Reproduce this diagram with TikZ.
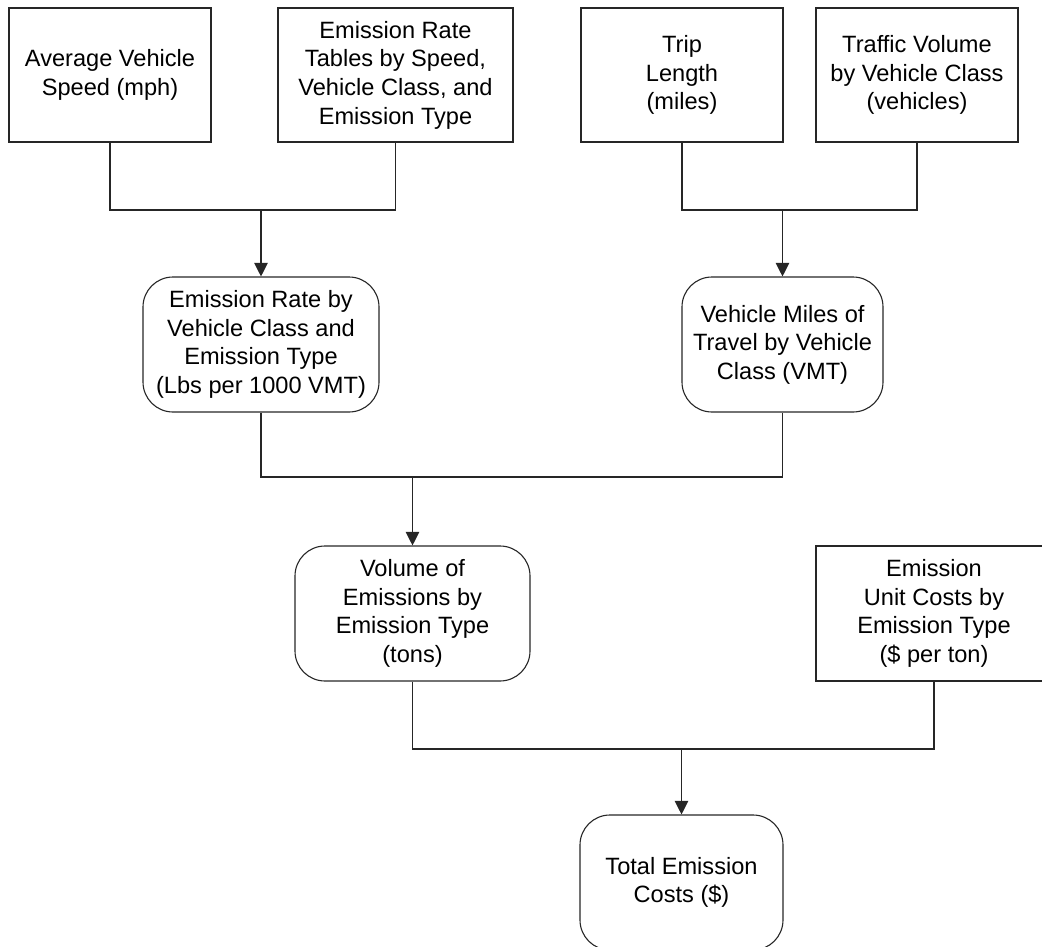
\documentclass[tikz,border=0pt]{standalone}
\usepackage{fontspec}
\setmainfont{Liberation Sans}
\usetikzlibrary{arrows.meta}

\tikzset{
  base/.style={draw=black!85, line width=1.1pt, align=center, inner sep=0pt,
    font=\fontsize{23.6}{28.6}\selectfont},
  inbox/.style={base, rectangle},
  calcbox/.style={base, rectangle, rounded corners=30pt},
  link/.style={draw=black!85, line width=1.1pt},
  feed/.style={link, -{Triangle[width=13.5pt,length=13.5pt]}}
}

\begin{document}
\begin{tikzpicture}[x=1pt,y=-1pt]
  \useasboundingbox (0,0) rectangle (1042,947);
  \clip (0,0) rectangle (1042,947);

  % input data boxes
  \node[inbox, minimum width=202pt, minimum height=134pt] (avs) at (110,75)
    {Average Vehicle\\Speed (mph)};
  \node[inbox, minimum width=235pt, minimum height=134pt] (ert) at (395.5,75)
    {Emission Rate\\Tables by Speed,\\Vehicle Class, and\\Emission Type};
  \node[inbox, minimum width=202pt, minimum height=134pt] (tl) at (682,75)
    {Trip\\Length\\(miles)};
  \node[inbox, minimum width=202pt, minimum height=134pt] (tv) at (917,75)
    {Traffic Volume\\by Vehicle Class\\(vehicles)};

  % computed quantities
  \node[calcbox, minimum width=236pt, minimum height=135pt] (er) at (261,344.5)
    {Emission Rate by\\Vehicle Class and\\Emission Type\\(Lbs per 1000 VMT)};
  \node[calcbox, minimum width=201pt, minimum height=135pt] (vmt) at (782.5,344.5)
    {Vehicle Miles of\\Travel by Vehicle\\Class (VMT)};
  \node[calcbox, minimum width=235pt, minimum height=135pt] (vol) at (412.5,613.5)
    {Volume of\\Emissions by\\Emission Type\\(tons)};
  \node[inbox, minimum width=236pt, minimum height=135pt] (uc) at (934,613.5)
    {Emission\\Unit Costs by\\Emission Type\\(\$ per ton)};
  \node[calcbox, minimum width=203pt, minimum height=135pt] (tot) at (681.5,882.5)
    {Total Emission\\Costs (\$)};

  % junction points of the merging connectors
  \coordinate (j1) at (261,210);
  \coordinate (j2) at (782.5,210);
  \coordinate (j3) at (412.5,477);
  \coordinate (j4) at (681.5,749);

  \draw[link] (avs.south) -- (avs.south |- j1) -- (ert.south |- j1) -- (ert.south);
  \draw[feed] (j1) -- (er.north);

  \draw[link] (tl.south) -- (tl.south |- j2) -- (tv.south |- j2) -- (tv.south);
  \draw[feed] (j2) -- (vmt.north);

  \draw[link] (er.south) -- (er.south |- j3) -- (vmt.south |- j3) -- (vmt.south);
  \draw[feed] (j3) -- (vol.north);

  \draw[link] (vol.south) -- (vol.south |- j4) -- (uc.south |- j4) -- (uc.south);
  \draw[feed] (j4) -- (tot.north);
\end{tikzpicture}
\end{document}
